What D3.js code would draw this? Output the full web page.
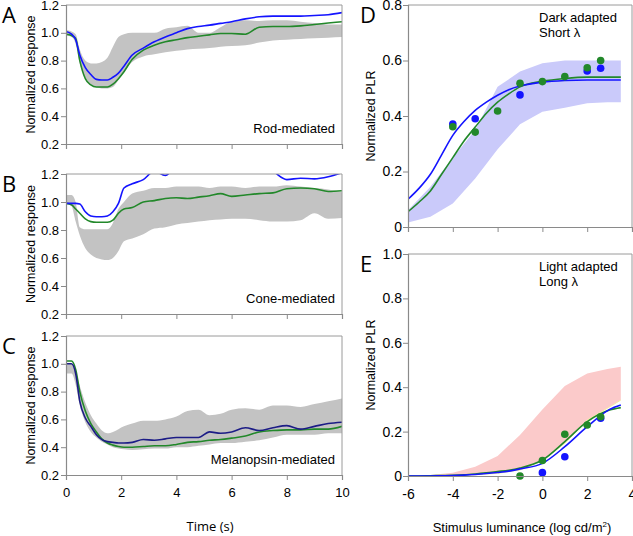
<!DOCTYPE html>
<html>
<head>
<meta charset="utf-8">
<script src="https://cdn.jsdelivr.net/npm/d3@7"></script>
<style>
  body { margin: 0; background: #fff; }
  svg { display: block; }
  .axis path, .axis line { stroke: #8a8a8a; }
  .axis text { font-family: "Liberation Sans", Arial, sans-serif; fill: #000; }
</style>
</head>
<body>
<div id="chart"></div>
<script>
// ---- time course panels (A, B, C): shared time points, seconds
const timeS = [0, 0.2, 0.35, 0.5, 0.7, 0.9, 1.1, 1.3, 1.5, 1.7, 1.9, 2.1, 2.4, 2.8, 3.2, 3.6, 4.0, 4.4, 4.8, 5.2, 5.6, 6.0, 6.5, 7.0, 7.5, 8.0, 8.5, 9.0, 9.5, 10];

// A - rod-mediated
const rodUpper = [1.02, 1.01, 0.99, 0.88, 0.80, 0.78, 0.78, 0.79, 0.82, 0.90, 0.97, 0.99, 1.0, 1.0, 1.0, 1.03, 1.04, 1.05, 1.0, 1.0, 1.04, 1.08, 1.09, 1.085, 1.09, 1.09, 1.08, 1.07, 1.06, 1.06];
const rodLower = [0.98, 0.97, 0.92, 0.78, 0.68, 0.63, 0.61, 0.60, 0.60, 0.61, 0.66, 0.72, 0.79, 0.83, 0.845, 0.86, 0.87, 0.88, 0.885, 0.89, 0.90, 0.905, 0.91, 0.93, 0.945, 0.95, 0.955, 0.96, 0.965, 0.97];
const rodBlue = [1.01, 0.99, 0.95, 0.84, 0.75, 0.70, 0.665, 0.66, 0.66, 0.68, 0.71, 0.76, 0.84, 0.89, 0.935, 0.97, 1.0, 1.03, 1.045, 1.055, 1.068, 1.08, 1.10, 1.115, 1.12, 1.12, 1.12, 1.125, 1.13, 1.145];
const rodGreen = [0.99, 0.98, 0.96, 0.80, 0.67, 0.625, 0.61, 0.61, 0.61, 0.63, 0.67, 0.72, 0.81, 0.875, 0.91, 0.935, 0.95, 0.965, 0.975, 0.985, 0.995, 0.995, 0.99, 1.04, 1.045, 1.045, 1.05, 1.06, 1.07, 1.08];

// B - cone-mediated
const coneUpper = [1.05, 1.05, 1.0, 0.82, 0.805, 0.805, 0.805, 0.805, 0.805, 0.85, 0.95, 1.0, 1.06, 1.08, 1.10, 1.10, 1.11, 1.11, 1.11, 1.10, 1.11, 1.11, 1.10, 1.11, 1.11, 1.12, 1.11, 1.10, 1.09, 1.07];
const coneLower = [0.99, 0.97, 0.86, 0.76, 0.67, 0.625, 0.60, 0.59, 0.585, 0.60, 0.65, 0.72, 0.74, 0.77, 0.81, 0.82, 0.84, 0.85, 0.86, 0.87, 0.875, 0.88, 0.88, 0.87, 0.86, 0.86, 0.87, 0.92, 0.88, 0.885];
const coneBlue = [0.99, 0.99, 0.99, 0.985, 0.93, 0.90, 0.895, 0.895, 0.90, 0.93, 0.99, 1.10, 1.13, 1.16, 1.22, 1.19, 1.26, 1.30, 1.30, 1.32, 1.30, 1.31, 1.30, 1.28, 1.22, 1.16, 1.17, 1.165, 1.18, 1.21];
const coneGreen = [0.99, 0.98, 0.95, 0.92, 0.88, 0.86, 0.855, 0.855, 0.855, 0.87, 0.92, 0.95, 0.96, 1.0, 1.01, 1.025, 1.03, 1.025, 1.035, 1.045, 1.06, 1.04, 1.05, 1.06, 1.065, 1.095, 1.10, 1.095, 1.075, 1.08];

// C - melanopsin-mediated
const melUpper = [1.0, 1.0, 0.95, 0.84, 0.72, 0.63, 0.57, 0.52, 0.50, 0.51, 0.53, 0.55, 0.57, 0.59, 0.59, 0.60, 0.62, 0.66, 0.67, 0.63, 0.64, 0.67, 0.68, 0.67, 0.70, 0.70, 0.69, 0.71, 0.73, 0.75];
const melLower = [0.93, 0.93, 0.85, 0.70, 0.58, 0.51, 0.47, 0.44, 0.42, 0.40, 0.39, 0.385, 0.38, 0.385, 0.39, 0.39, 0.40, 0.40, 0.41, 0.42, 0.43, 0.43, 0.44, 0.45, 0.47, 0.49, 0.49, 0.49, 0.50, 0.50];
const melNavy = [1.0, 1.0, 0.93, 0.73, 0.61, 0.55, 0.49, 0.455, 0.44, 0.435, 0.43, 0.43, 0.435, 0.455, 0.45, 0.46, 0.47, 0.47, 0.47, 0.51, 0.50, 0.51, 0.54, 0.52, 0.54, 0.555, 0.53, 0.55, 0.57, 0.58];
const melGreen = [1.02, 1.02, 0.96, 0.80, 0.66, 0.57, 0.51, 0.46, 0.43, 0.415, 0.405, 0.40, 0.40, 0.405, 0.41, 0.41, 0.42, 0.435, 0.44, 0.45, 0.455, 0.465, 0.48, 0.51, 0.52, 0.525, 0.525, 0.53, 0.53, 0.55];

// ---- irradiance panels (D, E): log cd/m2
const lumBand = [-6, -5, -4, -3, -2, -1, 0, 1, 2, 2.9, 3.5];
const darkUpper = [0.06, 0.145, 0.25, 0.35, 0.505, 0.56, 0.59, 0.60, 0.60, 0.60, 0.60];
const darkLower = [0.016, 0.037, 0.085, 0.175, 0.28, 0.37, 0.415, 0.43, 0.446, 0.45, 0.45];
const lightUpper = [0.0, 0.005, 0.015, 0.042, 0.09, 0.185, 0.30, 0.405, 0.462, 0.482, 0.492];
const lightLower = [0.0, 0.0, 0.002, 0.006, 0.012, 0.027, 0.072, 0.147, 0.252, 0.305, 0.342];

const lumFit = [-6, -5.5, -5, -4.5, -4, -3.5, -3, -2.5, -2, -1.5, -1, 0, 1, 2, 3, 3.5];
const darkFitBlue = [0.10, 0.14, 0.19, 0.26, 0.33, 0.38, 0.42, 0.45, 0.475, 0.495, 0.508, 0.522, 0.528, 0.53, 0.53, 0.53];
const darkFitGreen = [0.055, 0.09, 0.13, 0.19, 0.25, 0.31, 0.36, 0.41, 0.45, 0.48, 0.505, 0.525, 0.535, 0.54, 0.54, 0.54];
const lightFitBlue = [0.0, 0.0, 0.0, 0.001, 0.002, 0.004, 0.007, 0.011, 0.016, 0.022, 0.032, 0.057, 0.132, 0.222, 0.30, 0.32];
const lightFitGreen = [0.0, 0.0, 0.001, 0.002, 0.003, 0.005, 0.009, 0.014, 0.02, 0.026, 0.036, 0.072, 0.155, 0.245, 0.297, 0.308];

const darkDotsBlueX = [-4, -3, -1, 2, 2.6];
const darkDotsBlueY = [0.371, 0.39, 0.476, 0.562, 0.572];
const darkDotsGreenX = [-4, -3, -2, -1, 0, 1, 2, 2.6];
const darkDotsGreenY = [0.361, 0.342, 0.418, 0.518, 0.524, 0.542, 0.574, 0.60];
const lightDotsBlueX = [0, 1, 2.6];
const lightDotsBlueY = [0.015, 0.087, 0.26];
const lightDotsGreenX = [-1, 0, 1, 2, 2.6];
const lightDotsGreenY = [0.0, 0.07, 0.188, 0.23, 0.267];

const timeTicks = [0, 2, 4, 6, 8, 10];
const respTicks = [0.2, 0.4, 0.6, 0.8, 1.0, 1.2];
const lumTicks = [-6, -4, -2, 0, 2, 4];
const plrTicksD = [0, 0.2, 0.4, 0.6, 0.8];
const plrTicksE = [0, 0.2, 0.4, 0.6, 0.8, 1.0];

const BLUE = "#1414ff", GREEN = "#22882a", NAVY = "#1c1c86";

const svg = d3.select("#chart").append("svg")
  .attr("width", 633)
  .attr("height", 536);
svg.append("rect").attr("width", 633).attr("height", 536).attr("fill", "#fff");

let clipCount = 0;
function clipFor(x, y) {
  const id = "clip" + (clipCount++);
  svg.append("clipPath").attr("id", id).append("rect")
    .attr("x", x.range()[0]).attr("y", y.range()[1])
    .attr("width", x.range()[1] - x.range()[0])
    .attr("height", y.range()[0] - y.range()[1]);
  return "url(#" + id + ")";
}

function drawFrame(x, y, xTicks, yTicks, yFmt, xLabels, fontSize, yPad) {
  // grey top and right border
  svg.append("path")
    .attr("d", "M" + x.range()[0] + "," + y.range()[1] + "H" + x.range()[1] + "V" + y.range()[0])
    .attr("fill", "none").attr("stroke", "#9a9a9a").attr("stroke-width", 1);

  const ya = svg.append("g").attr("class", "axis")
    .attr("transform", "translate(" + x.range()[0] + ",0)")
    .call(d3.axisLeft(y).tickValues(yTicks).tickSizeOuter(0).tickSize(5).tickPadding(yPad).tickFormat(yFmt));
  ya.selectAll("text").attr("font-size", fontSize);

  // plain hyphen for negative numbers, as in the original figure
  const xa = svg.append("g").attr("class", "axis")
    .attr("transform", "translate(0," + y.range()[0] + ")")
    .call(d3.axisBottom(x).tickValues(xTicks).tickSizeOuter(0).tickSize(5).tickPadding(8)
      .tickFormat(xLabels ? (d => String(d)) : ""));
  xa.selectAll("text").attr("font-size", fontSize);
  svg.selectAll(".axis path.domain").attr("stroke-width", 1.2);
}

function yTitle(text, xPos, yCenter) {
  svg.append("text")
    .attr("transform", "translate(" + xPos + "," + yCenter + ") rotate(-90)")
    .attr("text-anchor", "middle")
    .attr("font-family", "Liberation Sans, Arial, sans-serif")
    .attr("font-size", 12.5)
    .text(text);
}

function letter(ch, xPos, yPos) {
  svg.append("text").attr("x", xPos).attr("y", yPos)
    .attr("font-family", "Open Sans, sans-serif")
    .attr("font-size", 22)
    .text(ch);
}

// ---- panels A-C
function timePanel(top, bottom, upper, lower, lines, label, ch, xLabels) {
  const x = d3.scaleLinear().domain([0, 10]).range([66, 342]);
  const y = d3.scaleLinear().domain([0.2, 1.2]).range([bottom, top]);
  const clip = clipFor(x, y);
  const g = svg.append("g").attr("clip-path", clip);

  g.append("path")
    .datum(timeS)
    .attr("fill", "#c3c3c3")
    .attr("d", d3.area()
      .x(d => x(d))
      .y0((d, i) => y(lower[i]))
      .y1((d, i) => y(upper[i]))
      .curve(d3.curveMonotoneX));

  lines.forEach(l => {
    g.append("path")
      .datum(timeS)
      .attr("fill", "none")
      .attr("stroke", l.color)
      .attr("stroke-width", 1.6)
      .attr("d", d3.line()
        .x(d => x(d))
        .y((d, i) => y(l.values[i]))
        .curve(d3.curveMonotoneX));
  });

  drawFrame(x, y, timeTicks, respTicks, d3.format(".1f"), xLabels, 13, 2);
  yTitle("Normalized response", 35, (top + bottom) / 2);
  letter(ch, 2, top + 18);

  svg.append("text")
    .attr("x", 335).attr("y", bottom - 11)
    .attr("text-anchor", "end")
    .attr("font-family", "Liberation Sans, Arial, sans-serif")
    .attr("font-size", 13)
    .text(label);
}

timePanel(5, 144, rodUpper, rodLower,
  [{ values: rodGreen, color: GREEN }, { values: rodBlue, color: BLUE }], "Rod-mediated", "A", false);
timePanel(174, 314, coneUpper, coneLower,
  [{ values: coneGreen, color: GREEN }, { values: coneBlue, color: BLUE }], "Cone-mediated", "B", false);
timePanel(336, 475, melUpper, melLower,
  [{ values: melGreen, color: GREEN }, { values: melNavy, color: NAVY }], "Melanopsin-mediated", "C", true);

svg.append("text")
  .attr("x", 210).attr("y", 531)
  .attr("text-anchor", "middle")
  .attr("font-family", "Open Sans, sans-serif")
  .attr("font-size", 13)
  .text("Time (s)");

// ---- panels D and E
function lumPanel(top, bottom, yMax, yTicks, upper, lower, bandColor, fitBlue, fitGreen,
                  dotsB, dotsG, lines, ch, xLabels, edgeColor) {
  const x = d3.scaleLinear().domain([-6, 4]).range([408, 632]);
  const y = d3.scaleLinear().domain([0, yMax]).range([bottom, top]);
  const clip = clipFor(x, y);
  const g = svg.append("g").attr("clip-path", clip);

  g.append("path")
    .datum(lumBand)
    .attr("fill", bandColor)
    .attr("d", d3.area()
      .x(d => x(d))
      .y0((d, i) => y(lower[i]))
      .y1((d, i) => y(upper[i]))
      .curve(d3.curveLinear));

  if (edgeColor) {
    g.append("path")
      .datum(lumBand)
      .attr("fill", "none")
      .attr("stroke", edgeColor)
      .attr("stroke-width", 1)
      .attr("d", d3.line().x(d => x(d)).y((d, i) => y(lower[i])));
  }

  [[fitGreen, GREEN], [fitBlue, BLUE]].forEach(([vals, col]) => {
    g.append("path")
      .datum(lumFit)
      .attr("fill", "none")
      .attr("stroke", col)
      .attr("stroke-width", 1.6)
      .attr("d", d3.line()
        .x(d => x(d))
        .y((d, i) => y(vals[i]))
        .curve(d3.curveMonotoneX));
  });

  [[dotsB, BLUE], [dotsG, GREEN]].forEach(([pts, col]) => {
    svg.append("g").selectAll("circle")
      .data(pts[0])
      .join("circle")
      .attr("cx", d => x(d))
      .attr("cy", (d, i) => y(pts[1][i]))
      .attr("r", 3.8)
      .attr("fill", col);
  });

  drawFrame(x, y, lumTicks, yTicks, d => d === 0 ? "0" : d3.format(".1f")(d), xLabels, 14, 1);
  yTitle("Normalized PLR", 375, (top + bottom) / 2);
  letter(ch, 360, top + 18);

  const t = svg.append("text")
    .attr("font-family", "Liberation Sans, Arial, sans-serif")
    .attr("font-size", 13);
  t.append("tspan").attr("x", 539).attr("y", top + 17).text(lines[0]);
  t.append("tspan").attr("x", 539).attr("y", top + 32).text(lines[1]);
}

lumPanel(5, 227, 0.8, plrTicksD, darkUpper, darkLower, "#cacafa",
  darkFitBlue, darkFitGreen,
  [darkDotsBlueX, darkDotsBlueY], [darkDotsGreenX, darkDotsGreenY],
  ["Dark adapted", "Short \u03bb"], "D", false, null);

lumPanel(254, 476, 1.0, plrTicksE, lightUpper, lightLower, "#fbcaca",
  lightFitBlue, lightFitGreen,
  [lightDotsBlueX, lightDotsBlueY], [lightDotsGreenX, lightDotsGreenY],
  ["Light adapted", "Long \u03bb"], "E", true, "#f4eea0");

const xt = svg.append("text")
  .attr("x", 522).attr("y", 532)
  .attr("text-anchor", "middle")
  .attr("font-family", "Liberation Sans, Arial, sans-serif")
  .attr("font-size", 13)
  .text("Stimulus luminance (log cd/m");
xt.append("tspan").attr("font-size", 8).attr("dy", -5).text("2");
xt.append("tspan").attr("dy", 5).text(")");
</script>
</body>
</html>
